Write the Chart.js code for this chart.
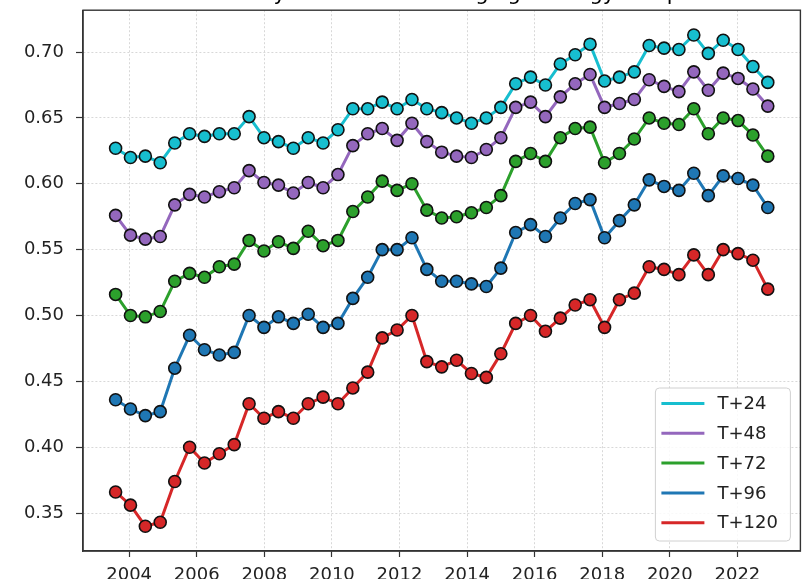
<!DOCTYPE html>
<html>
<head>
<meta charset="utf-8">
<script src="https://cdn.jsdelivr.net/npm/chart.js@4/dist/chart.umd.min.js"></script>
<style>
  html, body { margin: 0; padding: 0; background: #fff; }
  #wrap { width: 808px; height: 579px; overflow: hidden; position: relative; }
  #chart { display: block; margin-top: -18px; }
</style>
</head>
<body>
<div id="wrap"><canvas id="chart" width="808" height="597"></canvas></div>
<script>
// decimal year of each evaluation window
const years = [
  2003.60, 2004.04, 2004.48, 2004.92, 2005.35, 2005.79, 2006.23, 2006.67, 2007.11,
  2007.55, 2007.99, 2008.42, 2008.86, 2009.30, 2009.74, 2010.18, 2010.62, 2011.06,
  2011.49, 2011.93, 2012.37, 2012.81, 2013.25, 2013.69, 2014.13, 2014.57, 2015.00,
  2015.44, 2015.88, 2016.32, 2016.76, 2017.20, 2017.64, 2018.07, 2018.51, 2018.95,
  2019.39, 2019.83, 2020.27, 2020.71, 2021.14, 2021.58, 2022.02, 2022.46, 2022.90
];

const t24 = [
  0.627, 0.620, 0.621, 0.616, 0.631, 0.638, 0.636, 0.638, 0.638, 0.651, 0.635, 0.632,
  0.627, 0.635, 0.631, 0.641, 0.657, 0.657, 0.662, 0.657, 0.664, 0.657, 0.654, 0.650,
  0.646, 0.650, 0.658, 0.676, 0.681, 0.675, 0.691, 0.698, 0.706, 0.678, 0.681, 0.685,
  0.705, 0.703, 0.702, 0.713, 0.699, 0.709, 0.702, 0.689, 0.677
];
const t48 = [
  0.576, 0.561, 0.558, 0.560, 0.584, 0.592, 0.590, 0.594, 0.597, 0.610, 0.601, 0.599,
  0.593, 0.601, 0.597, 0.607, 0.629, 0.638, 0.642, 0.633, 0.646, 0.632, 0.624, 0.621,
  0.620, 0.626, 0.635, 0.658, 0.662, 0.651, 0.666, 0.676, 0.683, 0.658, 0.661, 0.664,
  0.679, 0.674, 0.670, 0.685, 0.671, 0.684, 0.680, 0.672, 0.659
];
const t72 = [
  0.516, 0.500, 0.499, 0.503, 0.526, 0.532, 0.529, 0.537, 0.539, 0.557, 0.549, 0.556,
  0.551, 0.564, 0.553, 0.557, 0.579, 0.590, 0.602, 0.595, 0.600, 0.580, 0.574, 0.575,
  0.578, 0.582, 0.591, 0.617, 0.623, 0.617, 0.635, 0.642, 0.643, 0.616, 0.623, 0.634,
  0.650, 0.646, 0.645, 0.657, 0.638, 0.650, 0.648, 0.637, 0.621
];
const t96 = [
  0.436, 0.429, 0.424, 0.427, 0.460, 0.485, 0.474, 0.470, 0.472, 0.500, 0.491, 0.499,
  0.494, 0.501, 0.491, 0.494, 0.513, 0.529, 0.550, 0.550, 0.559, 0.535, 0.526, 0.526,
  0.524, 0.522, 0.536, 0.563, 0.569, 0.560, 0.574, 0.585, 0.588, 0.559, 0.572, 0.584,
  0.603, 0.598, 0.595, 0.608, 0.591, 0.606, 0.604, 0.599, 0.582
];
const t120 = [
  0.366, 0.356, 0.340, 0.343, 0.374, 0.400, 0.388, 0.395, 0.402, 0.433, 0.422, 0.427,
  0.422, 0.433, 0.438, 0.433, 0.445, 0.457, 0.483, 0.489, 0.500, 0.465, 0.461, 0.466,
  0.456, 0.453, 0.471, 0.494, 0.500, 0.488, 0.498, 0.508, 0.512, 0.491, 0.512, 0.517,
  0.537, 0.535, 0.531, 0.546, 0.531, 0.550, 0.547, 0.542, 0.520
];

const leadLabels = ['T+24', 'T+48', 'T+72', 'T+96', 'T+120'];
const leadColors = ['#17becf', '#9467bd', '#2ca02c', '#1f77b4', '#d62728'];
const xTicks = [2004, 2006, 2008, 2010, 2012, 2014, 2016, 2018, 2020, 2022];
const yTicks = [0.35, 0.40, 0.45, 0.50, 0.55, 0.60, 0.65, 0.70];

Chart.defaults.font.family = '"DejaVu Sans", sans-serif';
Chart.defaults.color = '#222';

const makeSet = (label, values, color) => ({
  label: label,
  data: values.map((v, i) => ({ x: years[i], y: v })),
  borderColor: color,
  backgroundColor: color,
  borderWidth: 3,
  tension: 0,
  pointRadius: 6,
  pointBorderWidth: 1.6,
  pointBorderColor: '#111',
  pointBackgroundColor: color
});

// box around the axes plus a legend in the lower right corner
const frameLegend = {
  id: 'frameLegend',
  afterDraw(chart) {
    const { ctx, chartArea: a } = chart;
    ctx.save();
    ctx.strokeStyle = '#333';
    ctx.lineWidth = 1.4;
    ctx.strokeRect(a.left, a.top, a.right - a.left, a.bottom - a.top);

    const w = 135, h = 153;
    const x0 = a.right - 10 - w, y0 = a.bottom - 10 - h;
    ctx.beginPath();
    ctx.roundRect(x0, y0, w, h, 4);
    ctx.fillStyle = 'rgba(255,255,255,0.85)';
    ctx.fill();
    ctx.strokeStyle = '#d0d0d0';
    ctx.lineWidth = 1;
    ctx.stroke();

    ctx.font = '18px "DejaVu Sans"';
    ctx.textBaseline = 'middle';
    chart.data.datasets.forEach((ds, i) => {
      const cy = y0 + 15.5 + i * 29.8;
      ctx.beginPath();
      ctx.moveTo(x0 + 6, cy);
      ctx.lineTo(x0 + 49, cy);
      ctx.strokeStyle = ds.borderColor;
      ctx.lineWidth = 3;
      ctx.stroke();
      ctx.fillStyle = '#222';
      ctx.fillText(ds.label, x0 + 62, cy + 1);
    });
    ctx.restore();
  }
};

new Chart(document.getElementById('chart'), {
  type: 'line',
  data: {
    datasets: [
      makeSet(leadLabels[0], t24, leadColors[0]),
      makeSet(leadLabels[1], t48, leadColors[1]),
      makeSet(leadLabels[2], t72, leadColors[2]),
      makeSet(leadLabels[3], t96, leadColors[3]),
      makeSet(leadLabels[4], t120, leadColors[4])
    ]
  },
  options: {
    responsive: false,
    animation: false,
    devicePixelRatio: 1,
    layout: { padding: { left: 0, right: 5, top: 0, bottom: 0 } },
    plugins: {
      legend: { display: false },
      tooltip: { enabled: false },
      title: {
        display: true,
        text: 'Pattern correlation by lead time – averaging strategy comparison',
        color: '#000',
        font: { size: 21, weight: 'normal' },
        padding: { top: 0, bottom: 3 }
      }
    },
    scales: {
      x: {
        type: 'linear',
        min: 2002.635,
        max: 2023.865,
        afterBuildTicks: axis => { axis.ticks = xTicks.map(v => ({ value: v })); },
        afterFit: axis => { axis.height = 28; },
        ticks: {
          font: { size: 18 },
          padding: 8,
          maxRotation: 0,
          callback: v => String(v)
        },
        grid: {
          color: '#d8d8d8',
          lineWidth: 1,
          tickLength: 6,
          tickColor: '#333',
          tickWidth: 1.2,
          tickBorderDash: []
        },
        border: { display: true, color: '#333', width: 1.4, dash: [2, 2] }
      },
      y: {
        type: 'linear',
        min: 0.3212,
        max: 0.7318,
        afterBuildTicks: axis => { axis.ticks = yTicks.map(v => ({ value: v })); },
        afterFit: axis => { axis.width = 83; },
        ticks: {
          font: { size: 18 },
          padding: 12,
          callback: v => v.toFixed(2)
        },
        grid: {
          color: '#d8d8d8',
          lineWidth: 1,
          tickLength: 7,
          tickColor: '#333',
          tickWidth: 1.2,
          tickBorderDash: []
        },
        border: { display: true, color: '#333', width: 1.4, dash: [2, 2] }
      }
    }
  },
  plugins: [frameLegend]
});
</script>
</body>
</html>
